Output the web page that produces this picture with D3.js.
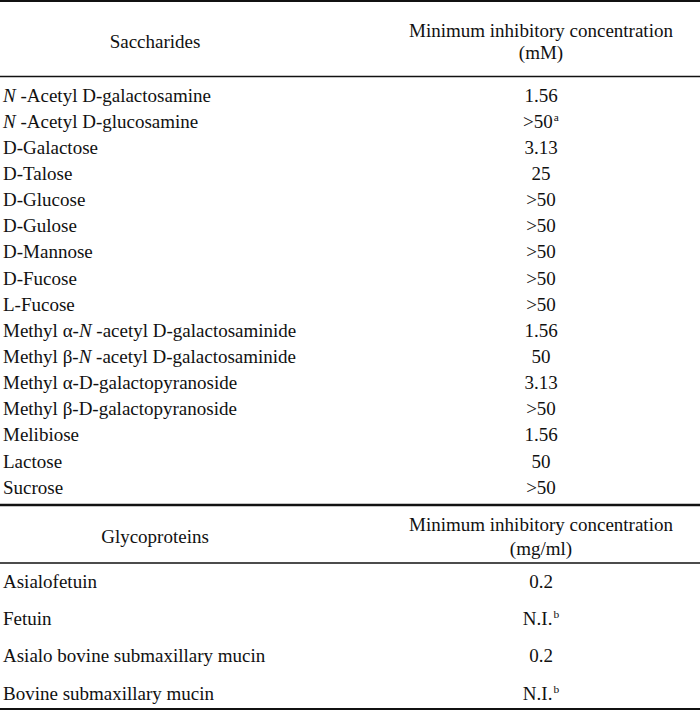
<!DOCTYPE html>
<html>
<head>
<meta charset="utf-8">
<script src="https://cdn.jsdelivr.net/npm/d3@7"></script>
<style>
  html, body { margin: 0; padding: 0; background: #fff; }
  svg { display: block; }
</style>
</head>
<body>
<div id="chart"></div>
<script>
// ---- data ----
const saccharideHeader = ["Saccharides", "Minimum inhibitory concentration", "(mM)"];
const saccharides = [
  "*N* -Acetyl D-galactosamine",
  "*N* -Acetyl D-glucosamine",
  "D-Galactose",
  "D-Talose",
  "D-Glucose",
  "D-Gulose",
  "D-Mannose",
  "D-Fucose",
  "L-Fucose",
  "Methyl α-*N* -acetyl D-galactosaminide",
  "Methyl β-*N* -acetyl D-galactosaminide",
  "Methyl α-D-galactopyranoside",
  "Methyl β-D-galactopyranoside",
  "Melibiose",
  "Lactose",
  "Sucrose"
];
const saccharideMIC = ["1.56", ">50^a", "3.13", "25", ">50", ">50", ">50", ">50", ">50",
  "1.56", "50", "3.13", ">50", "1.56", "50", ">50"];

const glycoHeader = ["Glycoproteins", "Minimum inhibitory concentration", "(mg/ml)"];
const glycoproteins = [
  "Asialofetuin",
  "Fetuin",
  "Asialo bovine submaxillary mucin",
  "Bovine submaxillary mucin"
];
const glycoMIC = ["0.2", "N.I.^b", "0.2", "N.I.^b"];

// ---- layout ----
const W = 700, H = 710;
const fs = 19;
const FONT = "'Liberation Serif', 'Times New Roman', Times, serif";
const svg = d3.select("#chart").append("svg")
  .attr("width", W).attr("height", H)
  .attr("font-family", FONT);
svg.append("rect").attr("width", W).attr("height", H).attr("fill", "#fff");

const colX = d3.scaleOrdinal().domain(["name", "value"]).range([155, 541]);
const leftX = 3;

function rule(y, w) {
  svg.append("line").attr("x1", 0).attr("x2", W).attr("y1", y).attr("y2", y)
    .attr("stroke", "#111").attr("stroke-width", w);
}

function txt(x, y, anchor) {
  return svg.append("text").attr("x", x).attr("y", y).attr("dy", "0.35em")
    .attr("text-anchor", anchor).attr("font-size", fs)
    .attr("font-family", FONT).attr("fill", "#111");
}

function richName(sel, s) {
  s.split("*").forEach((part, i) => {
    if (part === "") return;
    sel.append("tspan").text(part).attr("font-style", i % 2 === 1 ? "italic" : null);
  });
}
function richValue(sel, s) {
  const [main, sup] = s.split("^");
  sel.append("tspan").text(main);
  if (sup) sel.append("tspan").text(sup).attr("font-size", fs * 0.6).attr("dy", -7).attr("dx", 1);
}

function header(h, yTitle, yLine1, yLine2) {
  txt(colX("name"), yTitle, "middle").text(h[0]);
  txt(colX("value"), yLine1, "middle").text(h[1]);
  txt(colX("value"), yLine2, "middle").text(h[2]);
}

function section(names, values, range) {
  const y = d3.scalePoint().domain(d3.range(names.length)).range(range);
  names.forEach((n, i) => {
    richName(txt(leftX, y(i), "start"), n);
    richValue(txt(colX("value"), y(i), "middle"), values[i]);
  });
}

rule(1, 2);
header(saccharideHeader, 41, 30, 52);
rule(76.5, 1.5);
section(saccharides, saccharideMIC, [95, 487]);
rule(505, 2.5);
header(glycoHeader, 536, 524, 548);
rule(563, 1.5);
section(glycoproteins, glycoMIC, [581, 693]);
rule(709, 2);
</script>
</body>
</html>
